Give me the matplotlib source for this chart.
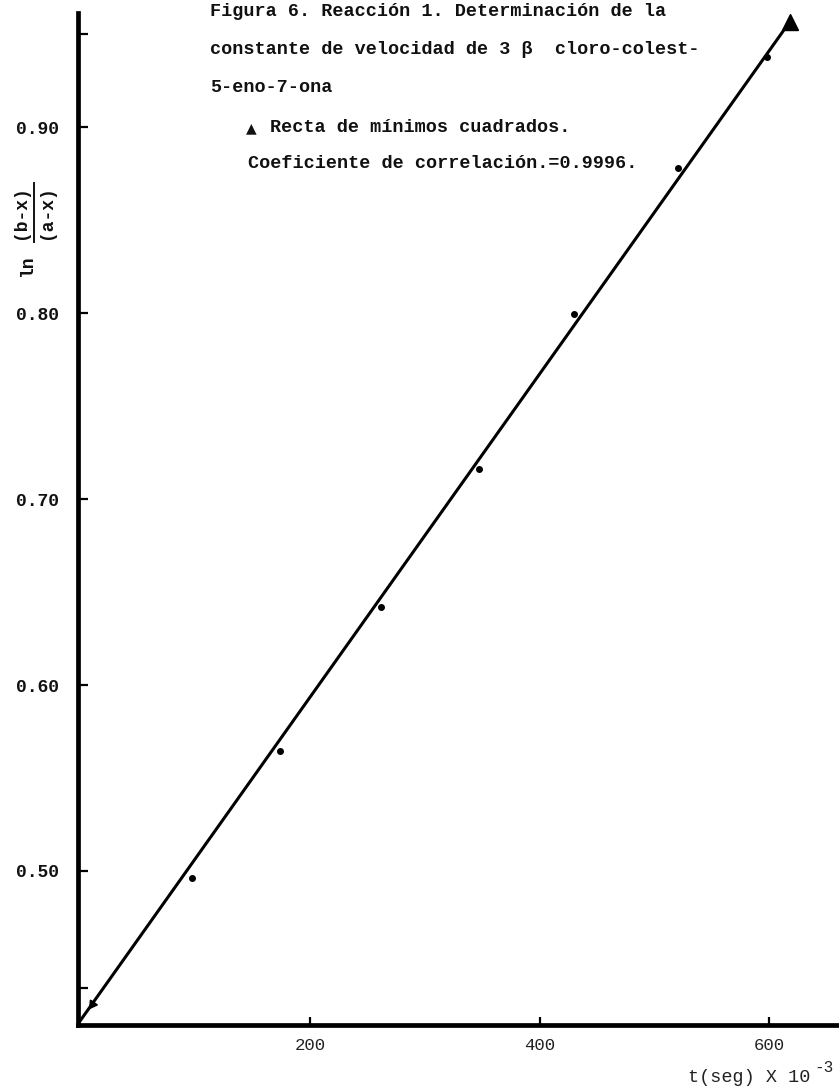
import matplotlib
matplotlib.use("Agg")
import matplotlib.pyplot as plt
from matplotlib.lines import Line2D

plt.rcParams['font.family'] = ['Liberation Mono', 'DejaVu Sans Mono', 'DejaVu Sans']

# ---- data ----
t_points = [97, 174, 262, 347, 430, 521, 598]
y_points = [0.496, 0.5645, 0.642, 0.716, 0.7995, 0.878, 0.9376]

fit_t = [-2, 618]
fit_y = [0.418, 0.9565]

tri_t = [10, 618]
tri_y = [0.4284, 0.9565]

x_ticks = [200, 400, 600]
x_ticklabels = ["200", "400", "600"]
y_ticks = [0.437, 0.50, 0.60, 0.70, 0.80, 0.90, 0.95]
y_ticklabels = ["", "0.50", "0.60", "0.70", "0.80", "0.90", ""]

title_lines = [
    "Figura 6. Reacción 1. Determinación de la",
    "constante de velocidad de 3 \u03b2  cloro-colest-",
    "5-eno-7-ona",
]
legend_text = "Recta de mínimos cuadrados."
corr_text = "Coeficiente de correlación.=0.9996."

W, H = 839, 1088
fig = plt.figure(figsize=(W / 100, H / 100), dpi=100)
ax = fig.add_axes([78 / W, 1 - 1025 / H, (W - 78) / W, (1025 - 13) / H])

ax.plot(fit_t, fit_y, color='black', lw=2.2, solid_capstyle='butt', zorder=3)
ax.plot(t_points, y_points, 'o', color='black', ms=4, zorder=4, clip_on=False)
ax.plot(tri_t[1:], tri_y[1:], marker='^', color='black', ms=11, ls='none', zorder=5, clip_on=False)
ax.plot(tri_t[:1], tri_y[:1], marker=(3, 0, 145), color='black', ms=7, ls='none', zorder=5, clip_on=False)

ax.set_xlim(-2.2, 661)
ax.set_ylim(0.4172, 0.9613)

for s in ['top', 'right']:
    ax.spines[s].set_visible(False)
for s in ['left', 'bottom']:
    ax.spines[s].set_linewidth(3.4)
    ax.spines[s].set_capstyle('projecting')

ax.set_xticks(x_ticks)
ax.set_xticklabels(x_ticklabels, fontsize=12.5, color='#222222')
ax.set_yticks(y_ticks)
ax.set_yticklabels(y_ticklabels, fontsize=13, fontweight='bold', color='#111111')
ax.tick_params(axis='y', direction='in', length=7, width=1.6, pad=14)
ax.tick_params(axis='x', direction='in', length=6, width=1.6, pad=9)

def px(x, y):
    return x / W, 1 - y / H

tkw = dict(fontsize=13.3, fontweight='bold', va='center', ha='left', color='#111111')
for yy, line in zip([12, 50, 88], title_lines):
    fig.text(*px(210, yy), line, **tkw)
fig.text(*px(246, 128), "\u25b2", fontsize=10, fontweight='bold', va='center', ha='left',
         color='#111111', family=['DejaVu Sans'])
fig.text(*px(270, 127), legend_text, **tkw)
fig.text(*px(248, 164), corr_text, **tkw)

# y label: ln (b-x)/(a-x), rotated
lkw = dict(fontsize=13, fontweight='bold', rotation=90, ha='center', va='center', color='#111111')
fig.text(*px(28, 266), "ln", **lkw)
fig.text(*px(21, 212), "(b-x)", **lkw)
fig.text(*px(47, 212), "(a-x)", **lkw)
fig.add_artist(Line2D([34 / W, 34 / W], [1 - 183 / H, 1 - 242 / H], color='#111111', lw=1.4))

# x label
fig.text(*px(688, 1078), "t(seg) X 10", fontsize=13.3, va='center', ha='left', color='#222222')
fig.text(*px(814, 1068), "-3", fontsize=11.5, va='center', ha='left', color='#222222')

fig.savefig("out.png", dpi=100, facecolor='white')
